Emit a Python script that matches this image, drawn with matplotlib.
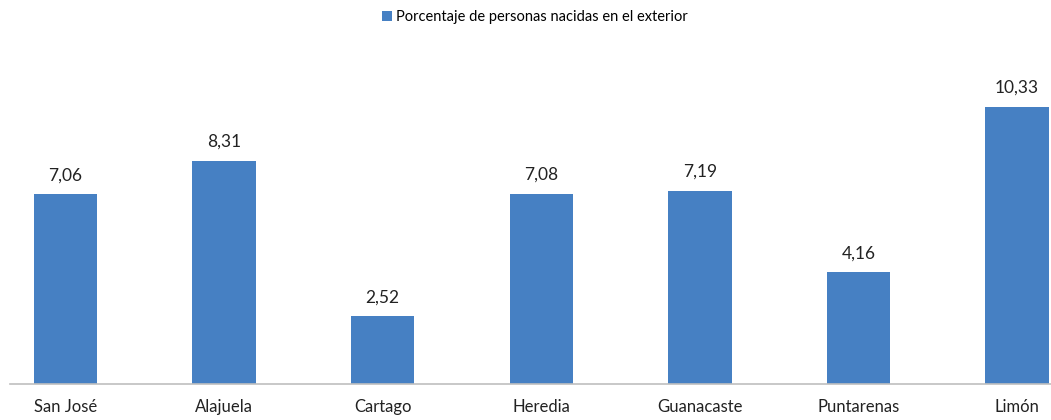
import matplotlib
matplotlib.use("Agg")
from matplotlib import pyplot as plt
import numpy as np

provincias = ['San José', 'Alajuela', 'Cartago', 'Heredia', 'Guanacaste', 'Puntarenas', 'Limón']
porcentaje = [7.06, 8.31, 2.52, 7.08, 7.19, 4.16, 10.33]
etiqueta_serie = 'Porcentaje de personas nacidas en el exterior'

plt.rcParams['font.family'] = ['Lato', 'DejaVu Sans']
azul = '#4680C3'

fig = plt.figure(figsize=(10.51, 4.2), dpi=100)
ax = fig.add_axes([10/1051, 36/420, 1041/1051, 334/420])

x = np.arange(len(provincias))
barras = ax.bar(x, porcentaje, width=0.4, color=azul, label=etiqueta_serie)

for xi, v in zip(x, porcentaje):
    ax.annotate(('%.2f' % v).replace('.', ','), (xi, v), xytext=(0, 8),
                textcoords='offset points', ha='center', va='bottom',
                fontsize=12.5, color='#222222')

ax.set_xlim(-0.35, 6.214)
ax.set_ylim(0, 12.44)
ax.set_xticks(x)
ax.set_xticklabels(provincias, fontsize=12, color='#222222')
ax.tick_params(axis='x', length=0, pad=11)
ax.set_yticks([])
for s in ['top', 'right', 'left']:
    ax.spines[s].set_visible(False)
ax.spines['bottom'].set_color('#BFBFBF')
ax.spines['bottom'].set_linewidth(1.2)

leg = fig.legend(handles=[barras], labels=[etiqueta_serie], loc='center',
                 bbox_to_anchor=(535/1051, 1 - 17/420), frameon=False,
                 fontsize=10.5, handlelength=0.7, handleheight=0.7,
                 handletextpad=0.3)

fig.savefig('out.png', dpi=100)
